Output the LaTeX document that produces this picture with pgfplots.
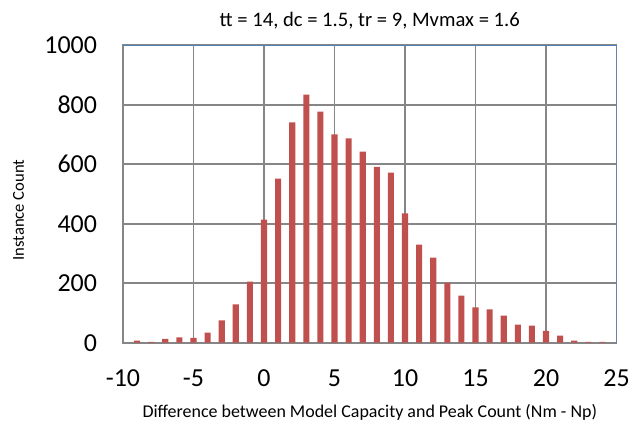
\documentclass[border={6.5pt 0pt 0pt 5.5pt}]{standalone}
\usepackage{pgfplots}
\pgfplotsset{compat=1.18}
\usepackage{fontspec}
\setmainfont{Carlito}
\definecolor{barred}{HTML}{C0504D}
\definecolor{frameblue}{HTML}{4F81BD}
\definecolor{gridgray}{HTML}{868686}

\begin{document}
\begin{tikzpicture}
	\begin{axis}[
		scale only axis,
		width=371pt, height=223.5pt,
		xmin=-10, xmax=25, ymin=0, ymax=1000,
		xtick distance=5, ytick distance=200,
		grid=major,
		major grid style={gridgray, line width=1.4pt},
		axis line style={gridgray, line width=1.4pt},
		major tick length=0pt,
		/pgf/number format/assume math mode=true,
		/pgf/number format/1000 sep={},
		tick label style={font=\fontsize{19.5}{21}\selectfont},
		yticklabel style={xshift=-16pt},
		xticklabel style={yshift=-19pt, inner sep=1pt},
		title={tt = 14, dc = 1.5, tr = 9, Mvmax = 1.6},
		title style={font=\fontsize{15.5}{17}\selectfont, yshift=3pt},
		xlabel={Difference between Model Capacity and Peak Count (Nm - Np)},
		ylabel={Instance Count},
		xlabel style={font=\fontsize{13.5}{15}\selectfont, yshift=-11.5pt, inner sep=0.5pt},
		ylabel style={font=\fontsize{12.5}{14}\selectfont, yshift=8.5pt, xshift=-12pt},
		ybar, bar width=4.6pt,
		]
	\addplot[fill=barred, draw=none] coordinates {
		(-9,7) (-8,3) (-7,13) (-6,18) (-5,16) (-4,34) (-3,75) (-2,129) (-1,205)
		(0,414) (1,552) (2,741) (3,834) (4,777) (5,701) (6,687) (7,643) (8,591)
		(9,572) (10,435) (11,330) (12,286) (13,201) (14,158) (15,119) (16,112)
		(17,91) (18,61) (19,57) (20,40) (21,24) (22,7) (23,3) (24,3)
	};
	\draw[frameblue, line width=1.4pt] (rel axis cs:0,1) -- (rel axis cs:1,1) -- (rel axis cs:1,0);
	\end{axis}
\end{tikzpicture}
\end{document}
